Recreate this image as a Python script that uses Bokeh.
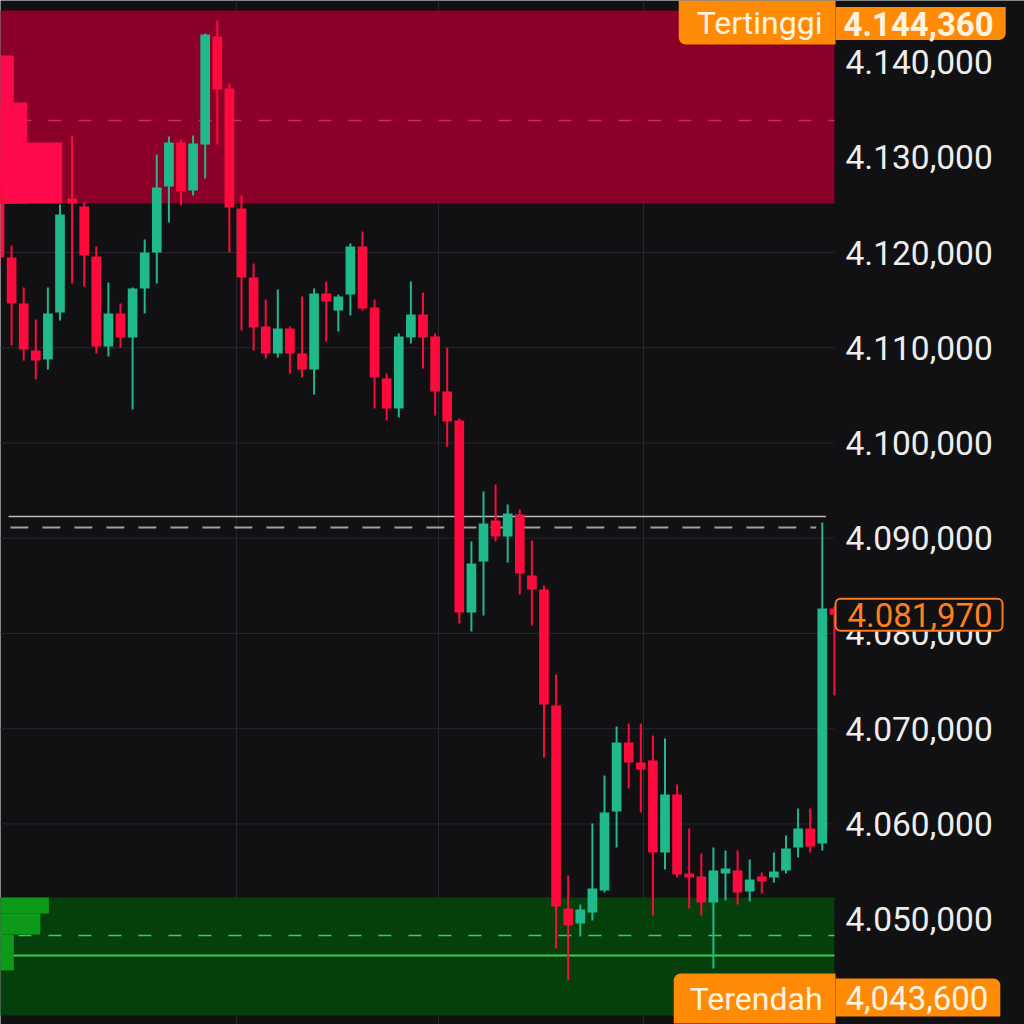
from bokeh.plotting import figure
from bokeh.models import Range1d, FixedTicker, Label, Grid, ColumnDataSource
from bokeh.core.properties import value
from bokeh.embed import file_html
from bokeh.resources import INLINE

# ---- price bars, oldest first ----
opens = [4127035, 4119475, 4114645, 4109710, 4108765, 4113700, 4125670, 4124830, 4119580, 4110130,
         4113595, 4111075, 4116220, 4120000, 4126930, 4131550, 4126510, 4131340, 4142680, 4137220,
         4124620, 4117375, 4112230, 4109395, 4112020, 4109395, 4107715, 4115695, 4113910, 4115590,
         4120630, 4114225, 4106770, 4103620, 4111075, 4113490, 4111180, 4105405, 4102360, 4082200,
         4087555, 4091860, 4090180, 4092490, 4086085, 4084615, 4072435, 4051120, 4049545, 4050700,
         4053010, 4061305, 4068550, 4066450, 4066660, 4057000, 4063090, 4054795, 4054480, 4051750,
         4054795, 4055110, 4052905, 4054480, 4054375, 4055110, 4057525, 4059520, 4057945, 4082620]
highs = [4128610, 4120735, 4116325, 4112965, 4116325, 4125040, 4132285, 4125250, 4120630, 4116850,
         4114645, 4116325, 4121365, 4130290, 4132180, 4131865, 4132285, 4142995, 4144360, 4137745,
         4125985, 4118845, 4115065, 4116115, 4112230, 4115380, 4116220, 4116955, 4115590, 4120945,
         4122205, 4115065, 4107295, 4111495, 4116955, 4115800, 4111495, 4110025, 4102570, 4089655,
         4094905, 4095640, 4093540, 4093015, 4089760, 4085035, 4075690, 4054585, 4051540, 4060045,
         4065085, 4070230, 4070545, 4070545, 4069285, 4068970, 4064140, 4059520, 4056895, 4057525,
         4057210, 4057210, 4056265, 4054900, 4057000, 4058785, 4061620, 4061620, 4091650, 4082830]
lows = [4118425, 4110235, 4108660, 4106665, 4107715, 4112860, 4116745, 4116430, 4109395, 4109080,
        4110025, 4103515, 4113595, 4116745, 4123150, 4124935, 4125985, 4127770, 4131340, 4120000,
        4111810, 4109710, 4108870, 4108975, 4107295, 4106875, 4105090, 4110655, 4111705, 4113385,
        4113910, 4103620, 4102360, 4102675, 4110445, 4107820, 4102885, 4099630, 4081045, 4080205,
        4081885, 4089655, 4087450, 4084090, 4080835, 4066975, 4046920, 4043600, 4048180, 4049860,
        4052800, 4057525, 4063720, 4061200, 4050385, 4055215, 4054375, 4051120, 4050385, 4044820,
        4051960, 4051540, 4051855, 4052695, 4053850, 4054795, 4056475, 4057000, 4057210, 4073485]
closes = [4119475, 4114645, 4109815, 4108660, 4113595, 4123990, 4125145, 4119685, 4110130, 4113595,
          4111075, 4116220, 4120000, 4126825, 4131550, 4126405, 4131445, 4142890, 4137115, 4124725,
          4117375, 4112125, 4109395, 4112020, 4109395, 4107715, 4115695, 4114855, 4115380, 4120630,
          4114120, 4106875, 4103620, 4111180, 4113490, 4111075, 4105405, 4102255, 4082200, 4087345,
          4091545, 4090180, 4092595, 4086295, 4084615, 4072540, 4051330, 4049335, 4051015, 4053220,
          4061200, 4068550, 4066450, 4065715, 4057000, 4063090, 4054690, 4054375, 4051750, 4055110,
          4055320, 4052800, 4054165, 4053955, 4055005, 4057420, 4059520, 4057630, 4082620, 4081970]

# ---- key levels ----
high_value = 4144360
low_value = 4043600
last_price = 4081970
high_text = "4.144,360"
low_text = "4,043,600"
last_text = "4.081,970"

supply_zone = (4125145, 4145410)      # bottom, top
supply_mid = 4133860
demand_zone = (4039885, 4052275)
demand_mid = 4048285
demand_line = 4046185
ref_solid = 4092280
ref_dashed = 4091125

# volume-at-price profile (bin bottom, bin top, length in bar widths)
supply_bins_bottom = [4125145, 4125145, 4125145]
supply_bins_top = [4131550, 4135750, 4140685]
supply_bins_len = [5.1, 2.2, 1.1]
demand_bins_bottom = [4050595, 4048390, 4044610]
demand_bins_top = [4052275, 4050595, 4048390]
demand_bins_len = [4.0, 3.3, 1.1]

# ---- price scale ----
tick_values = [4050000, 4060000, 4070000, 4080000, 4090000,
               4100000, 4110000, 4120000, 4130000, 4140000]
tick_labels = ["4.050,000", "4.060,000", "4.070,000", "4.080,000", "4.090,000",
               "4.100,000", "4.110,000", "4.120,000", "4.130,000", "4.140,000"]

BG = "#111114"
UP = "#1fb98b"
DOWN = "#ff0a3c"
ORANGE = "#ff8a05"
GRID = "#26262b"
FONT = "Roboto"

n = len(opens)
idx = list(range(n))
colors = [UP if c >= o else DOWN for o, c in zip(opens, closes)]
body_top = [max(o, c) for o, c in zip(opens, closes)]
body_bot = [min(o, c) for o, c in zip(opens, closes)]
src = ColumnDataSource(dict(x=idx, high=highs, low=lows, top=body_top, bottom=body_bot, color=colors))

# bar slots are 12.1 px wide; the price column sits to the right of the last slot
x0 = 0.083
x_end = x0 + 1024 / 12.1
chart_right = 69.0          # right edge of the bar area
label_x = 69.92             # left edge of the price column texts

p = figure(width=1024, height=1024, output_backend="svg", toolbar_location=None,
           x_range=Range1d(x0, x_end), y_range=Range1d(4038940, 4146460),
           x_axis_location=None, y_axis_location=None,
           min_border=0)
p.background_fill_color = BG
p.border_fill_color = BG
p.outline_line_color = None
for g in p.grid:
    g.visible = False

# grid: vertical session lines over the whole height, horizontal lines across the bar area
p.add_layout(Grid(dimension=0, ticker=FixedTicker(ticks=[19.6, 36.3, 53.2]),
                  grid_line_color=GRID, grid_line_width=1))
p.segment(x0=x0 - 1, x1=chart_right, y0=tick_values, y1=tick_values, line_color=GRID, line_width=1)

# zones
p.quad(left=x0 - 1, right=chart_right, bottom=supply_zone[0], top=supply_zone[1],
       fill_color="#8a0029", line_color=None)
p.quad(left=x0 - 1, right=chart_right, bottom=demand_zone[0], top=demand_zone[1],
       fill_color="#053f0c", line_color=None)

# level lines
p.segment(x0=x0 - 1, x1=chart_right, y0=supply_mid, y1=supply_mid, line_color="#d8245c",
          line_width=1.5, line_dash="13 17")
p.segment(x0=x0 - 1, x1=chart_right, y0=demand_mid, y1=demand_mid, line_color="#3ccf52",
          line_width=1.5, line_dash="13 17")
p.segment(x0=x0 - 1, x1=chart_right, y0=demand_line, y1=demand_line, line_color="#3ccf4e",
          line_width=2)
p.segment(x0=0.75, x1=68.3, y0=ref_solid, y1=ref_solid, line_color="#bdbdbd", line_width=1.5)
p.segment(x0=0.9, x1=67.5, y0=ref_dashed, y1=ref_dashed, line_color="#a0a0a0",
          line_width=2, line_dash="18 14")

# profile bars
p.quad(left=x0 - 1, right=[x0 + v for v in supply_bins_len], bottom=supply_bins_bottom,
       top=supply_bins_top, fill_color="#ff0a4c", line_color=None)
p.quad(left=x0 - 1, right=[x0 + v for v in demand_bins_len], bottom=demand_bins_bottom,
       top=demand_bins_top, fill_color="#0d9a18", line_color=None)

# candles
p.segment(x0="x", y0="low", x1="x", y1="high", color="color", line_width=2, source=src)
p.vbar(x="x", width=0.8, top="top", bottom="bottom", fill_color="color", line_color=None, source=src)

# price column
p.text(x=label_x, y=tick_values, text=tick_labels, text_font=value(FONT), text_font_size="33.5px",
       text_color="#ededed", text_align="left", text_baseline="middle")

# price tags
common = dict(x_units="screen", text_font=FONT, text_baseline="middle")
p.add_layout(Label(x=835, y=1002, y_units="screen", text="Tertinggi", text_align="right",
                   text_font_size="32px", text_color="#fff3e2", background_fill_color=ORANGE,
                   padding=dict(left=18, right=13, top=3, bottom=3),
                   border_radius=dict(top_left=0, top_right=0, bottom_right=0, bottom_left=7), **common))
p.add_layout(Label(x=835, y=1001, y_units="screen", text=high_text, text_align="left",
                   text_font_size="33px", text_font_style="bold", text_color="#fff3e2",
                   background_fill_color=ORANGE,
                   padding=dict(left=8, right=12, top=5, bottom=4),
                   border_radius=dict(top_left=0, top_right=0, bottom_right=7, bottom_left=0), **common))
p.add_layout(Label(x=835, y=26, y_units="screen", text="Terendah", text_align="right",
                   text_font_size="32px", text_color="#fff3e2", background_fill_color=ORANGE,
                   padding=dict(left=16, right=13, top=6, bottom=6),
                   border_radius=dict(top_left=7, top_right=0, bottom_right=0, bottom_left=0), **common))
p.add_layout(Label(x=835, y=27, y_units="screen", text=low_text, text_align="left",
                   text_font_size="33px", text_color="#fff3e2", background_fill_color=ORANGE,
                   padding=dict(left=10, right=12, top=7, bottom=7),
                   border_radius=dict(top_left=0, top_right=7, bottom_right=0, bottom_left=0), **common))
p.add_layout(Label(x=835, y=last_price, text=last_text, text_align="left",
                   text_font_size="33px", text_color="#ff7f1f", background_fill_color=BG,
                   border_line_color="#ff7a1a", border_line_width=2,
                   padding=dict(left=12, right=10, top=4, bottom=4),
                   border_radius=5, **common))

open("out.html", "w").write(file_html(p, INLINE))
